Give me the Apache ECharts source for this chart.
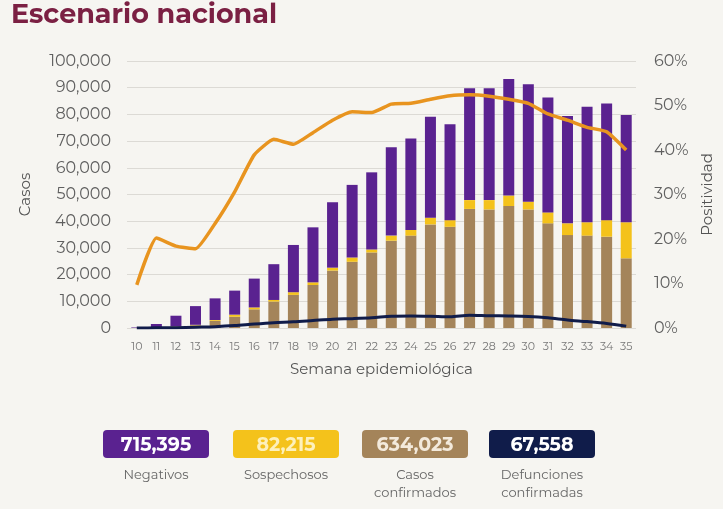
<!DOCTYPE html>
<html lang="es">
<head>
<meta charset="UTF-8">
<title>Escenario nacional</title>
<style>
    html, body { margin: 0; padding: 0; background: #f6f5f1; }
    #chart { width: 723px; height: 509px; }
</style>
</head>
<body>
<div id="chart"></div>
<script src="https://cdn.jsdelivr.net/npm/echarts@6/dist/echarts.min.js"></script>
<script>
    // semanas epidemiológicas
    const weeks = ['10','11','12','13','14','15','16','17','18','19','20','21','22','23',
                   '24','25','26','27','28','29','30','31','32','33','34','35'];
    const confirmados = [0, 300, 500, 1000, 2700, 4200, 7000, 9900, 12400, 16100, 21500, 24800, 28300, 32700,
                         34600, 38800, 37900, 44600, 44400, 45700, 44400, 39200, 34800, 34600, 34200, 26100];
    const sospechosos = [0, 0, 100, 200, 300, 800, 700, 600, 1000, 1000, 1100, 1600, 1100, 1900,
                         2100, 2500, 2500, 3300, 3500, 3900, 2900, 4100, 4400, 5000, 6200, 13500];
    const negativos = [200, 1200, 4000, 7000, 8100, 9000, 10800, 13400, 17700, 20600, 24500, 27200, 28900, 33100,
                       34300, 37800, 35900, 41900, 41900, 43700, 44000, 43000, 40200, 43300, 43700, 40200];
    const defunciones = [0, 50, 100, 300, 500, 900, 1500, 2000, 2300, 2800, 3300, 3500, 3800, 4400,
                         4500, 4400, 4200, 4800, 4600, 4500, 4300, 3800, 3000, 2400, 1700, 700];
    const positividad = [9.7, 20.2, 18.4, 17.8, 23.5, 30.6, 38.9, 42.4, 41.3, 43.9, 46.7, 48.6, 48.4, 50.3,
                         50.5, 51.4, 52.2, 52.4, 52.1, 51.4, 50.5, 48.1, 46.7, 45.1, 44.1, 40.0];
    const totalLabels = ['715,395', '82,215', '634,023', '67,558'];
    const totalNames = ['Negativos', 'Sospechosos', 'Casos\nconfirmados', 'Defunciones\nconfirmadas'];

    const cPurple = '#5a2290';
    const cYellow = '#f4c21b';
    const cTan = '#a4845a';
    const cNavy = '#101c4a';
    const cOrange = '#e8941f';
    const font = 'Montserrat, "Open Sans", "DejaVu Sans", sans-serif';

    const chart = echarts.init(document.getElementById('chart'));

    // cajas de totales bajo la gráfica
    let boxes = [];
    const boxX = [103, 233, 362, 489];
    const boxColors = [cPurple, cYellow, cTan, cNavy];
    const textColors = ['#ffffff', '#fdf0bb', '#f3eadc', '#ffffff'];
    boxX.forEach((x, i) => {
        boxes.push({
            type: 'rect', x: x, y: 430,
            shape: { width: 106, height: 28, r: 4 },
            style: { fill: boxColors[i] }
        });
        boxes.push({
            type: 'text', x: x + 53, y: 445,
            style: {
                text: totalLabels[i], fill: textColors[i], font: 'bold 19px ' + font,
                align: 'center', verticalAlign: 'middle'
            }
        });
        boxes.push({
            type: 'text', x: x + 53, y: 466,
            style: {
                text: totalNames[i], fill: '#666', font: '13px ' + font,
                align: 'center', verticalAlign: 'top', lineHeight: 18
            }
        });
    });

    let option = {
        backgroundColor: '#f6f5f1',
        animation: false,
        title: {
            text: 'Escenario nacional',
            left: 6, top: -3,
            textStyle: { color: '#7b2043', fontSize: 27, fontWeight: 'bold', fontFamily: font }
        },
        grid: { left: 127, right: 81, top: 61, bottom: 181 },
        xAxis: {
            type: 'category',
            data: weeks,
            name: 'Semana epidemiológica',
            nameLocation: 'middle',
            nameGap: 34,
            nameTextStyle: { color: '#555', fontSize: 15, fontFamily: font },
            axisLine: { show: false },
            axisTick: { show: false },
            axisLabel: { color: '#777', fontSize: 11, interval: 0, margin: 13, fontFamily: font }
        },
        yAxis: [{
            type: 'value',
            min: 0, max: 100000, interval: 10000,
            name: 'Casos',
            nameLocation: 'middle',
            nameRotate: 90,
            nameGap: 94,
            nameTextStyle: { color: '#555', fontSize: 15, fontFamily: font },
            axisLabel: {
                color: '#5f5f5f', fontSize: 16, margin: 16, fontFamily: font,
                formatter: v => v.toLocaleString('en-US')
            },
            splitLine: { lineStyle: { color: '#dcdad5' } }
        }, {
            type: 'value',
            min: 0, max: 60, interval: 10,
            name: 'Positividad',
            nameLocation: 'middle',
            nameRotate: 90,
            nameGap: 64,
            nameTextStyle: { color: '#555', fontSize: 15, fontFamily: font },
            axisLabel: { color: '#5f5f5f', fontSize: 16, margin: 18, formatter: '{value}%', fontFamily: font },
            splitLine: { show: false }
        }],
        series: [{
            name: 'Casos confirmados', type: 'bar', stack: 'casos',
            data: confirmados, barWidth: 11, itemStyle: { color: cTan }
        }, {
            name: 'Sospechosos', type: 'bar', stack: 'casos',
            data: sospechosos, barWidth: 11, itemStyle: { color: cYellow }
        }, {
            name: 'Negativos', type: 'bar', stack: 'casos',
            data: negativos, barWidth: 11, itemStyle: { color: cPurple }
        }, {
            name: 'Defunciones confirmadas', type: 'line',
            data: defunciones, symbol: 'none', smooth: 0.3,
            lineStyle: { color: cNavy, width: 3 }, z: 5
        }, {
            name: 'Positividad', type: 'line', yAxisIndex: 1,
            data: positividad, symbol: 'none', smooth: 0.15,
            lineStyle: { color: cOrange, width: 3.5 }, z: 6
        }],
        graphic: boxes
    };

    chart.setOption(option);
</script>
</body>
</html>
